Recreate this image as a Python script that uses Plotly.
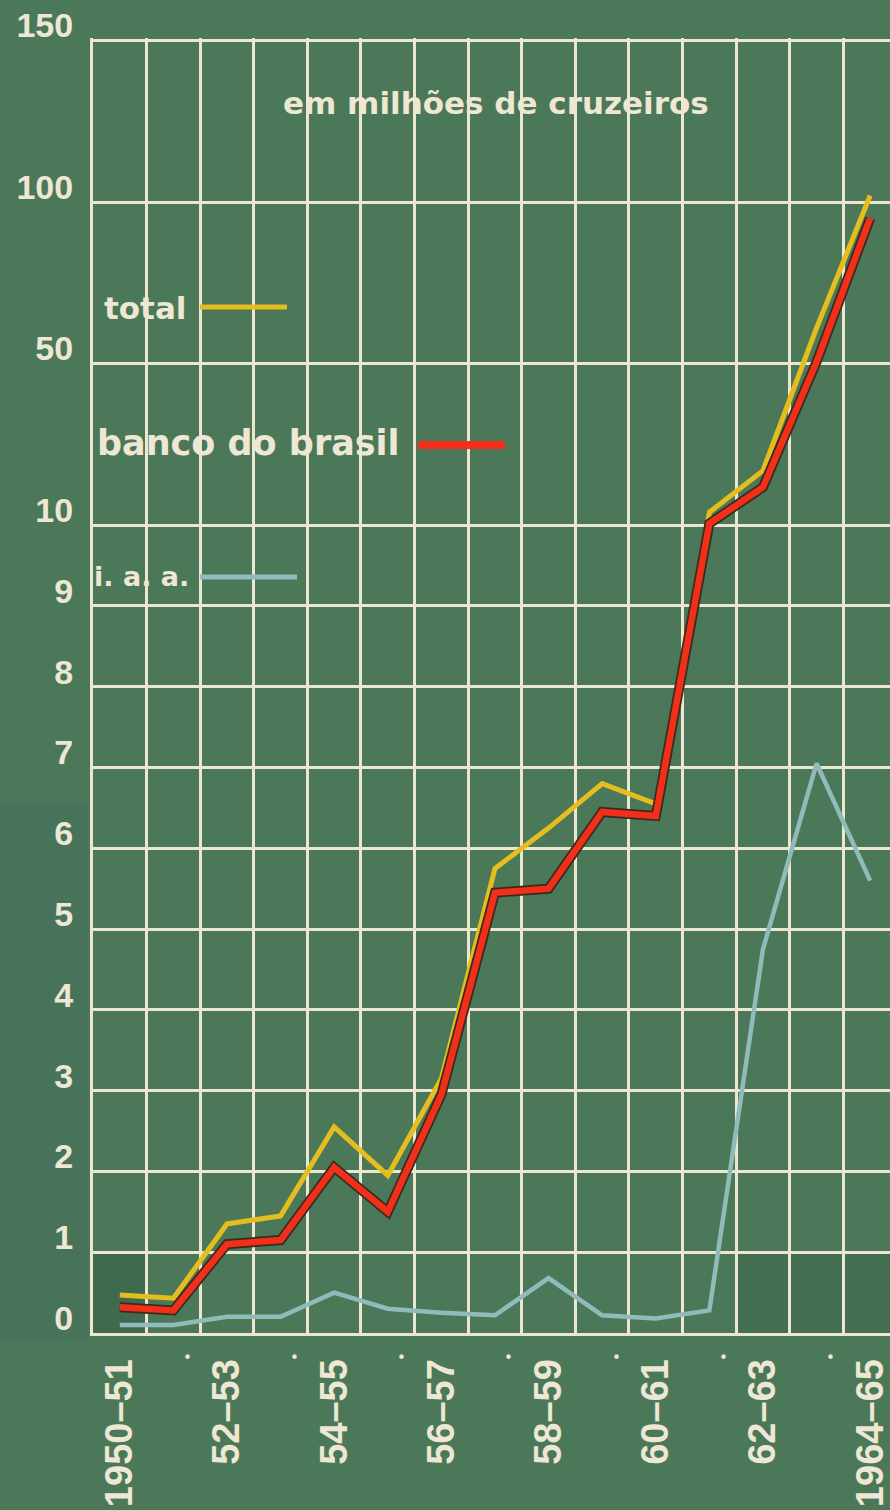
import plotly.graph_objects as go

# ---------------- data (millions of cruzeiros) ----------------
seasons = ["1950–51", "1951–52", "1952–53", "1953–54", "1954–55", "1955–56", "1956–57",
           "1957–58", "1958–59", "1959–60", "1960–61", "1961–62", "1962–63", "1963–64", "1964–65"]
x_tick_text = ["1950–51", "", "52–53", "", "54–55", "", "56–57", "",
               "58–59", "", "60–61", "", "62–63", "", "1964–65"]
total = [0.47, 0.43, 1.35, 1.45, 2.55, 1.95, 3.15, 5.75, 6.25, 6.8, 6.55, 13.2, 23.5, 61, 102]
banco_do_brasil = [0.32, 0.28, 1.1, 1.15, 2.05, 1.5, 2.95, 5.45, 5.5, 6.45, 6.4, 10.4, 19.4, 50.5, 95]
iaa = [0.1, 0.1, 0.2, 0.2, 0.5, 0.3, 0.25, 0.22, 0.68, 0.22, 0.18, 0.28, 4.75, 7.05, 5.6]
y_tick_values = [0, 1, 2, 3, 4, 5, 6, 7, 8, 9, 10, 50, 100, 150]
y_tick_text = [str(v) for v in y_tick_values]

# ---------------- broken (piecewise) value scale of the original chart ----------------
def scale(v):
    if v <= 10:
        return v
    if v <= 50:
        return 10 + (v - 10) / 40 * 2
    return 12 + (v - 50) / 50 * 2

x = list(range(len(seasons)))

BG = "#4b7859"
GRID = "#ede6d0"
TXT = "#ede7d3"
YELLOW = "#e6bd1e"
RED = "#f2301a"
TEAL = "#8fbcba"

W, H = 890, 1510
ML, MR, MT, MB = 93, 0, 38, 177
YTOP = 16.03


def px(xp):
    return (xp - ML) / (W - ML - MR)


def py(yp):
    return (H - MB - yp) / (H - MB - MT)


fig = go.Figure()
fig.add_trace(go.Scatter(x=x, y=[scale(v) for v in iaa], mode="lines", name="i. a. a.",
                         line=dict(color=TEAL, width=4.5), showlegend=False, hoverinfo="skip"))
fig.add_trace(go.Scatter(x=x, y=[scale(v) for v in total], mode="lines", name="total",
                         line=dict(color=YELLOW, width=5), showlegend=False, hoverinfo="skip"))
fig.add_trace(go.Scatter(x=x, y=[scale(v) for v in banco_do_brasil], mode="lines", name="",
                         line=dict(color="#3b2a1e", width=10), showlegend=False, hoverinfo="skip"))
fig.add_trace(go.Scatter(x=x, y=[scale(v) for v in banco_do_brasil], mode="lines", name="banco do brasil",
                         line=dict(color=RED, width=6.5), showlegend=False, hoverinfo="skip"))

shapes = []
# darker patches of the board (below grid)
shapes.append(dict(type="rect", xref="x", yref="y", x0=-0.5, x1=0.5, y0=0, y1=1,
                   fillcolor="#3f6a4e", line_width=0, layer="below"))
shapes.append(dict(type="rect", xref="x", yref="y", x0=11.5, x1=14.5, y0=0, y1=1,
                   fillcolor="#436e51", line_width=0, layer="below"))
shapes.append(dict(type="rect", xref="paper", yref="paper", x0=px(0), x1=px(88), y0=py(1340), y1=py(803),
                   fillcolor="#47735a", line_width=0, layer="below"))

# masks that interrupt the grid behind the texts
for (x0, x1, y0, y1) in [(278, 712, 79, 124), (96, 296, 289, 336), (95, 508, 420, 466), (95, 298, 555, 600)]:
    shapes.append(dict(type="rect", xref="paper", yref="paper", x0=px(x0), x1=px(x1), y0=py(y1), y1=py(y0),
                       fillcolor=BG, line_width=0, layer="between"))

# legend swatches
for (x0, x1, yy, col, wd) in [(200, 287, 307, YELLOW, 5), (418, 505, 445, RED, 8), (200, 297, 577, TEAL, 5)]:
    shapes.append(dict(type="line", xref="paper", yref="paper", x0=px(x0), x1=px(x1), y0=py(yy), y1=py(yy),
                       line=dict(color=col, width=wd), layer="above"))

TFONT = "DejaVu Sans"
annotations = [
    dict(text="em milhões de cruzeiros", x=px(496), y=py(103), xref="paper", yref="paper",
         xanchor="center", yanchor="middle", showarrow=False,
         font=dict(family=TFONT, size=31, color=TXT, weight="bold")),
    dict(text="total", x=px(102), y=py(308), xref="paper", yref="paper",
         xanchor="left", yanchor="middle", showarrow=False,
         font=dict(family=TFONT, size=31, color=TXT, weight="bold")),
    dict(text="banco do brasil", x=px(95), y=py(443), xref="paper", yref="paper",
         xanchor="left", yanchor="middle", showarrow=False,
         font=dict(family=TFONT, size=35, color=TXT, weight="bold")),
    dict(text="i. a. a.", x=px(92), y=py(576), xref="paper", yref="paper",
         xanchor="left", yanchor="middle", showarrow=False,
         font=dict(family=TFONT, size=27, color=TXT, weight="bold")),
]
# small dots marking the intermediate seasons below the axis
for i in range(1, len(seasons), 2):
    annotations.append(dict(text="•", x=i, y=py(1358), xref="x", yref="paper", xshift=14,
                            xanchor="center", yanchor="middle", showarrow=False,
                            font=dict(family="DejaVu Sans", size=15, color=TXT)))

fig.update_layout(
    width=W, height=H,
    margin=dict(l=ML, r=MR, t=MT, b=MB, pad=0, autoexpand=False),
    paper_bgcolor=BG, plot_bgcolor=BG,
    showlegend=False,
    shapes=shapes,
    annotations=annotations,
    xaxis=dict(
        range=[-0.5, 14.37], automargin=False,
        tickmode="array", tickvals=x, ticktext=x_tick_text, tickangle=-90,
        ticks="", ticklabelstandoff=8, ticklabeloverflow="allow",
        tickfont=dict(family="Liberation Sans, Arial, sans-serif", size=38, color=TXT, weight="bold"),
        showgrid=False, zeroline=False,
        showline=True, linecolor=GRID, linewidth=3,
        minor=dict(tickmode="linear", tick0=-0.5, dtick=1, showgrid=True, gridcolor=GRID, gridwidth=3, ticks=""),
    ),
    yaxis=dict(
        range=[0, YTOP], automargin=False,
        tickmode="array", tickvals=[scale(v) for v in y_tick_values], ticktext=y_tick_text,
        ticks="", ticklabelposition="outside", ticklabelstandoff=10, ticklabelshift=-15,
        ticklabeloverflow="allow",
        tickfont=dict(family="Liberation Sans, Arial, sans-serif", size=34, color=TXT, weight="bold"),
        showgrid=True, gridcolor=GRID, gridwidth=3, zeroline=False,
        showline=True, linecolor=GRID, linewidth=3,
    ),
)

fig.write_html("out.html", config={"displayModeBar": False},
               post_script="document.body.style.margin='0';document.body.style.padding='0';")
